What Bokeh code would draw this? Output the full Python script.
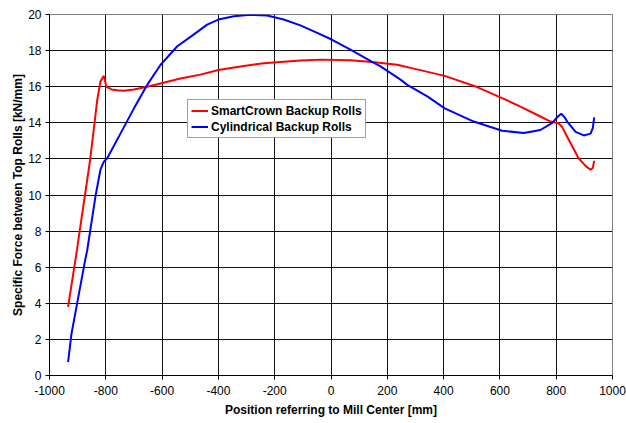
from bokeh.plotting import figure
from bokeh.models import Legend, LegendItem, FixedTicker, Range1d
from bokeh.embed import file_html
from bokeh.resources import INLINE

# SmartCrown Backup Rolls
smart_x = [-934, -902, -890, -857, -843, -831, -819, -807, -798, -780, -760, -736, -700, -653,
           -606, -535, -464, -400, -310, -239, -109, -34, 69, 146, 235, 294, 404, 519, 608,
           673, 744, 780, 808, 820, 840, 879, 905, 922, 930, 935]
smart_y = [3.8, 7.0, 8.3, 11.8, 13.6, 15.2, 16.3, 16.6, 16.0, 15.85, 15.8, 15.78, 15.85, 16.0,
           16.18, 16.45, 16.67, 16.92, 17.15, 17.3, 17.45, 17.5, 17.46, 17.37, 17.22, 17.0, 16.6,
           15.98, 15.37, 14.9, 14.35, 14.07, 13.98, 13.8, 13.2, 12.05, 11.6, 11.4, 11.5, 11.9]

# Cylindrical Backup Rolls
cyl_x = [-934, -922, -902, -872, -866, -837, -819, -807, -795, -748, -700, -653, -606, -546,
         -487, -440, -400, -345, -286, -227, -168, -109, -49, 4, 69, 146, 176, 247, 271, 342,
         404, 507, 608, 685, 744, 786, 806, 818, 830, 839, 869, 898, 922, 930, 935]
cyl_y = [0.74, 2.3, 3.98, 6.5, 6.94, 9.9, 11.4, 11.85, 12.04, 13.4, 14.8, 16.1, 17.2, 18.24,
         18.9, 19.44, 19.72, 19.9, 19.98, 19.94, 19.72, 19.4, 18.98, 18.6, 18.05, 17.37, 17.13,
         16.39, 16.1, 15.46, 14.8, 14.07, 13.56, 13.43, 13.6, 14.0, 14.35, 14.5, 14.3, 14.07,
         13.5, 13.3, 13.4, 13.7, 14.3]

x_ticks = list(range(-1000, 1001, 200))
y_ticks = list(range(0, 21, 2))

p = figure(width=626, height=420, output_backend="svg", toolbar_location=None,
           x_range=Range1d(-1000, 1000), y_range=Range1d(0, 20),
           min_border_left=49, min_border_right=14, min_border_top=14, min_border_bottom=45)

p.background_fill_color = "white"
p.border_fill_color = "white"
p.outline_line_color = "#808080"
p.outline_line_width = 1

r1 = p.line(smart_x, smart_y, line_color="#FF0000", line_width=2)
r2 = p.line(cyl_x, cyl_y, line_color="#0000FF", line_width=2)

for ax in (p.xaxis[0], p.yaxis[0]):
    ax.axis_line_color = "black"
    ax.axis_line_width = 1
    ax.major_tick_line_color = "black"
    ax.major_tick_out = 4
    ax.major_tick_in = 0
    ax.minor_tick_line_color = None
    ax.major_label_text_font = "Liberation Sans"
    ax.major_label_text_font_size = "12px"
    ax.major_label_text_color = "black"
    ax.axis_label_text_font = "Liberation Sans"
    ax.axis_label_text_font_size = "12px"
    ax.axis_label_text_font_style = "bold"
    ax.axis_label_text_color = "black"

p.xaxis.ticker = FixedTicker(ticks=x_ticks)
p.yaxis.ticker = FixedTicker(ticks=y_ticks)
p.xaxis.major_label_overrides = {t: str(t) for t in x_ticks}
p.yaxis.major_label_overrides = {t: str(t) for t in y_ticks}
p.xaxis.axis_label = "Position referring to Mill Center [mm]"
p.yaxis.axis_label = "Specific Force between Top Rolls [kN/mm]"
p.xaxis.major_label_standoff = 6
p.yaxis.major_label_standoff = 4
p.xaxis.axis_label_standoff = 5
p.yaxis.axis_label_standoff = 0

p.xgrid.ticker = FixedTicker(ticks=x_ticks)
p.ygrid.ticker = FixedTicker(ticks=y_ticks)
for g in (p.xgrid[0], p.ygrid[0]):
    g.grid_line_color = "#111111"
    g.grid_line_width = 1

legend = Legend(items=[LegendItem(label="SmartCrown Backup Rolls", renderers=[r1]),
                       LegendItem(label="Cylindrical Backup Rolls", renderers=[r2])],
                location=(138, 237))
legend.label_text_font = "Liberation Sans"
legend.label_text_font_size = "12px"
legend.label_text_font_style = "bold"
legend.label_text_color = "black"
legend.glyph_width = 17
legend.glyph_height = 15
legend.label_height = 15
legend.label_standoff = 3
legend.padding = 3
legend.spacing = 1
legend.margin = 0
legend.border_line_color = "#444444"
legend.border_line_width = 1
legend.background_fill_color = "white"
legend.background_fill_alpha = 1
p.add_layout(legend, "center")

open("out.html", "w").write(file_html(p, INLINE))
